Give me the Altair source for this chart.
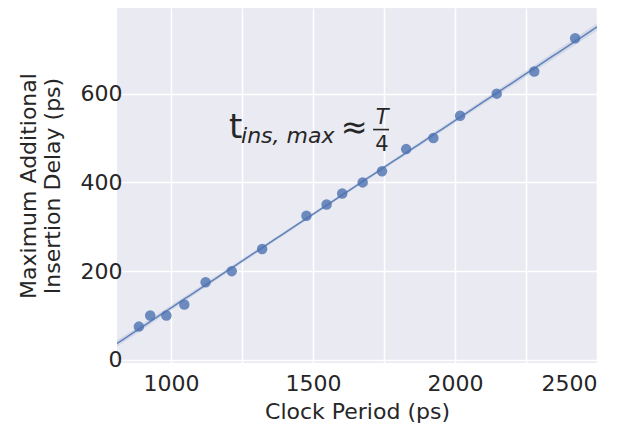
import altair as alt
import numpy as np
import pandas as pd

# data
clock_period = [887, 927, 984, 1047, 1122, 1214, 1321, 1477, 1548, 1603,
                1675, 1743, 1828, 1924, 2018, 2147, 2279, 2423]
max_delay = [75, 100, 100, 125, 175, 200, 250, 325, 350, 375,
             400, 425, 475, 500, 550, 600, 650, 725]
x_ticks = [1000, 1250, 1500, 1750, 2000, 2250, 2500]
y_ticks = [0, 200, 400, 600]
x_domain = [810, 2500]
y_domain = [-7, 793]

pts = pd.DataFrame({"x": clock_period, "y": max_delay})

# OLS fit with 95% confidence band (like seaborn regplot)
xa = np.array(clock_period, float)
ya = np.array(max_delay, float)
n = len(xa)
b1, b0 = np.polyfit(xa, ya, 1)
resid = ya - (b0 + b1 * xa)
s = np.sqrt(np.sum(resid ** 2) / (n - 2))
xm = xa.mean()
sxx = np.sum((xa - xm) ** 2)
grid = np.linspace(x_domain[0], x_domain[1], 100)
yhat = b0 + b1 * grid
se = s * np.sqrt(1.0 / n + (grid - xm) ** 2 / sxx)
fit = pd.DataFrame({"x": grid, "y": yhat, "lo": yhat - 2.12 * se, "hi": yhat + 2.12 * se})

BLUE = "#4C72B0"
FONT = "DejaVu Sans"

xs = alt.Scale(domain=x_domain, nice=False, zero=False)
ys = alt.Scale(domain=y_domain, nice=False, zero=False)

xaxis = alt.Axis(title="Clock Period (ps)", values=x_ticks, format="d", grid=True,
                 gridColor="white", gridWidth=1.5, domain=False, ticks=False, tickSize=0,
                 labelFontSize=22, titleFontSize=22, labelColor="#262626",
                 titleColor="#262626", labelPadding=10, titlePadding=7,
                 titleFontWeight="normal", labelFont=FONT, titleFont=FONT)
yaxis = alt.Axis(title=["Maximum Additional", "Insertion Delay (ps)"], values=y_ticks,
                 format="d", grid=True, gridColor="white", gridWidth=1.5, domain=False,
                 ticks=False, tickSize=0, labelFontSize=22, titleFontSize=22,
                 labelColor="#262626", titleColor="#262626", labelPadding=-5,
                 titlePadding=16, titleFontWeight="normal", labelFont=FONT,
                 titleFont=FONT, titleLineHeight=24)

band = alt.Chart(fit).mark_area(color=BLUE, opacity=0.15, clip=True).encode(
    x=alt.X("x:Q", scale=xs, axis=xaxis),
    y=alt.Y("lo:Q", scale=ys, axis=yaxis),
    y2="hi:Q",
)
line = alt.Chart(fit).mark_line(color=BLUE, strokeWidth=1.5, opacity=0.85, clip=True).encode(
    x=alt.X("x:Q", scale=xs, axis=xaxis),
    y=alt.Y("y:Q", scale=ys, axis=yaxis),
)
scatter = alt.Chart(pts).mark_circle(color=BLUE, size=110, opacity=0.8).encode(
    x=alt.X("x:Q", scale=xs, axis=xaxis),
    y=alt.Y("y:Q", scale=ys, axis=yaxis),
)

# annotation anchor (data space)
ann = pd.DataFrame({"x": [1208], "y": [501]})


def txt(s, size, dx, dy, italic=False, align="left"):
    return alt.Chart(ann).mark_text(
        text=s, fontSize=size, font=FONT, color="#262626", align=align,
        baseline="alphabetic", dx=dx, dy=dy, fontStyle="italic" if italic else "normal"
    ).encode(x=alt.X("x:Q", scale=xs, axis=xaxis), y=alt.Y("y:Q", scale=ys, axis=yaxis))


t_main = txt("t", 34, -1, 0)
t_sub = txt("ins, max", 22, 11, 5, italic=True)
t_approx = txt("≈", 32, 124, 0, align="center")
t_num = txt("T", 21, 152, -14, italic=True, align="center")
t_den = txt("4", 21, 152, 13, align="center")
frac_bar = alt.Chart(ann).mark_rule(
    color="#262626", strokeWidth=1.6, xOffset=143, x2Offset=159, yOffset=-8, y2Offset=-8
).encode(x=alt.X("x:Q", scale=xs, axis=xaxis), x2="x:Q",
         y=alt.Y("y:Q", scale=ys, axis=yaxis))

chart = alt.layer(band, line, scatter, t_main, t_sub, t_approx, t_num, t_den, frac_bar).properties(
    width=480, height=355,
    padding={"left": 109, "top": 0, "right": 30, "bottom": 62},
    autosize=alt.AutoSizeParams(type="none"),
    background="white",
).configure_view(fill="#EAEAF2", stroke=None)

chart.save("out.html", embed_options={"renderer": "svg", "actions": False})
